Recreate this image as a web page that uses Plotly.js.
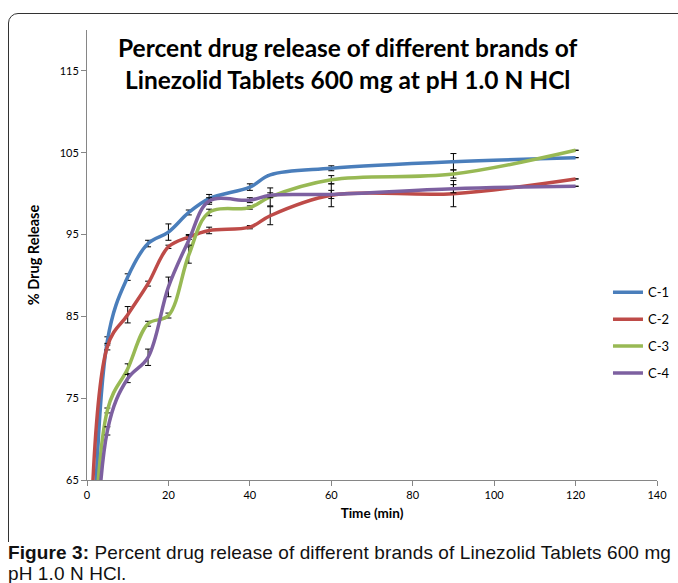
<!DOCTYPE html>
<html>
<head>
<meta charset="utf-8">
<script src="https://cdn.plot.ly/plotly-3.0.1.min.js"></script>
<style>
  html, body { margin: 0; padding: 0; width: 678px; height: 583px; overflow: hidden; background: #fff; }
  #box { position: absolute; left: 8px; top: 13px; width: 720px; height: 580px; border: 1.3px solid #333; border-radius: 10px; }
  #chart { position: absolute; left: 0; top: 0; width: 678px; height: 583px; }
  #caption { position: absolute; left: 0; top: 542px; width: 678px; height: 45px; background: #fff;
             font-family: "Liberation Sans", Arial, sans-serif; font-size: 19px; line-height: 21px; color: #111;
             padding-left: 8px; box-sizing: border-box; white-space: nowrap; letter-spacing: 0.1px; }
</style>
</head>
<body>
<div id="box"></div>
<div id="chart"></div>
<div id="caption"><b>Figure 3:</b> Percent drug release of different brands of Linezolid Tablets 600 mg<br>pH 1.0 N HCl.</div>
<script>
// Time points (min)
const time = [0, 5, 10, 15, 20, 25, 30, 40, 45, 60, 90, 120];
// % drug release
const c1 = [0, 82.0, 89.8, 93.9, 95.3, 97.7, 99.4, 100.8, 102.3, 103.1, 103.9, 104.4];
const c2 = [0, 81.3, 85.2, 89.0, 93.5, 94.7, 95.5, 95.9, 97.3, 99.8, 100.0, 101.8];
const c3 = [0, 73.5, 78.6, 84.1, 85.1, 92.5, 97.7, 98.3, 99.6, 101.7, 102.4, 105.3];
const c4 = [0, 71.0, 77.4, 80.0, 88.6, 94.3, 99.1, 99.2, 99.8, 99.9, 100.6, 100.9];
// standard deviations
const e1 = [0, 0.5, 0.4, 0.4, 1.0, 0.3, 0.5, 0.4, 0, 0.3, 1.0, 0];
const e2 = [0, 0.4, 1.0, 0.3, 0.2, 0.3, 0.4, 0.2, 1.1, 1.4, 1.6, 0];
const e3 = [0, 0.3, 0.6, 0.3, 0.3, 1.0, 0.4, 0.2, 1.1, 0.5, 0.5, 0];
const e4 = [0, 0.5, 0.5, 1.0, 1.2, 0.6, 0.4, 0.3, 0.3, 0.5, 0.5, 0];
const names = ["C-1", "C-2", "C-3", "C-4"];
const colors = ["#4A7EBB", "#BE4B48", "#98B954", "#7D60A0"];

const series = [c1, c2, c3, c4];
const errs = [e1, e2, e3, e4];
const traces = series.map((s, i) => ({
  x: time, y: s, name: names[i], type: "scatter", mode: "lines",
  line: { color: colors[i], width: 3.5, shape: "spline", smoothing: 1 },
  error_y: { type: "data", array: errs[i], visible: true, color: "#000", thickness: 1, width: 3 },
  legendgroup: "g" + i
}));

const fam = "Lato, 'Open Sans', sans-serif";
const axisFont = { family: fam, size: 11, color: "#000" };
const layout = {
  width: 678, height: 583,
  paper_bgcolor: "rgba(0,0,0,0)", plot_bgcolor: "rgba(0,0,0,0)",
  margin: { l: 87, r: 21, t: 30, b: 103, autoexpand: false },
  showlegend: true,
  legend: { x: 0.914, y: 0.327, xanchor: "left", yanchor: "middle", traceorder: "grouped", tracegroupgap: 7,
            font: { family: fam, size: 13, color: "#000" }, bgcolor: "rgba(0,0,0,0)" },
  xaxis: {
    range: [0, 140], tick0: 0, dtick: 20, showgrid: false, zeroline: false,
    showline: true, linecolor: "#868686", linewidth: 1, ticks: "outside", ticklen: 5, tickcolor: "#868686",
    tickfont: axisFont, automargin: false,
    title: { text: "<b>Time (min)</b>", font: { family: fam, size: 13.5, color: "#000" }, standoff: 8 }
  },
  yaxis: {
    range: [65, 120], tick0: 65, dtick: 10, showgrid: false, zeroline: false,
    showline: true, linecolor: "#868686", linewidth: 1, ticks: "outside", ticklen: 5, tickcolor: "#868686",
    tickfont: axisFont, automargin: false,
    title: { text: "<b>% Drug Release</b>", font: { family: fam, size: 14.5, color: "#000" }, standoff: 16 }
  },
  annotations: [{
    xref: "paper", yref: "paper", x: 0.458, y: 0.926, xanchor: "center", yanchor: "middle",
    text: "<b>Percent drug release of different brands of<br>Linezolid Tablets 600 mg at pH 1.0 N HCl</b>",
    showarrow: false, align: "center",
    font: { family: fam, size: 24.5, color: "#000" }
  }]
};

Plotly.newPlot("chart", traces, layout, { displayModeBar: false, staticPlot: true });
</script>
</body>
</html>
